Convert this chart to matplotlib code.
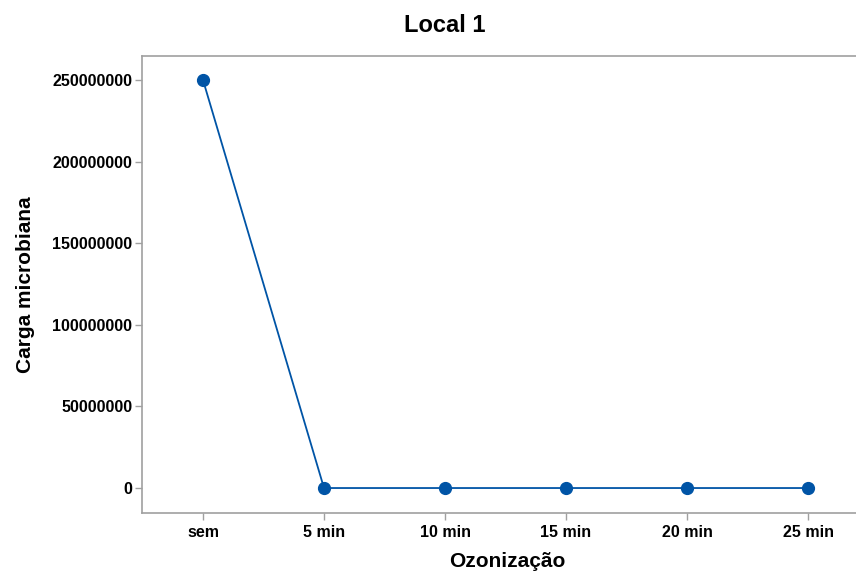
import matplotlib.pyplot as plt

categories = ['sem', '5 min', '10 min', '15 min', '20 min', '25 min']
carga = [250000000, 0, 0, 0, 0, 0]
y_ticks = [0, 50000000, 100000000, 150000000, 200000000, 250000000]

plt.rcParams['font.family'] = 'Liberation Sans'

fig = plt.figure(figsize=(8.56, 5.72), dpi=100)
ax = fig.add_axes([142 / 856, 1 - 513 / 572, (873 - 142) / 856, (513 - 56) / 572])

x = list(range(len(categories)))
ax.plot(x, carga, color='#0054A6', linewidth=1.3, marker='o', markersize=8.5,
        markerfacecolor='#0054A6', markeredgecolor='#0054A6')

ax.set_xlim(-0.504, 5.537)
ax.set_ylim(-15300000, 264700000)
ax.set_xticks(x)
ax.set_xticklabels(categories, fontweight='bold', fontsize=11.5)
ax.set_yticks(y_ticks)
ax.set_yticklabels([str(v) for v in y_ticks], fontweight='bold', fontsize=11.5)

for side in ['top', 'left', 'right', 'bottom']:
    ax.spines[side].set_color('#a0a0a0')
    ax.spines[side].set_linewidth(1.2)
ax.tick_params(colors='#a0a0a0', labelcolor='black', length=5, width=1)
ax.tick_params(axis='y', pad=2)

ax.set_xlabel('Ozonização', fontsize=15, fontweight='bold', labelpad=9)
ax.set_ylabel('Carga microbiana', fontsize=15, fontweight='bold', labelpad=12)
fig.text(445 / 856, 1 - 25 / 572, 'Local 1', ha='center', va='center',
         fontsize=17, fontweight='bold')

fig.savefig('out.png', dpi=100)
